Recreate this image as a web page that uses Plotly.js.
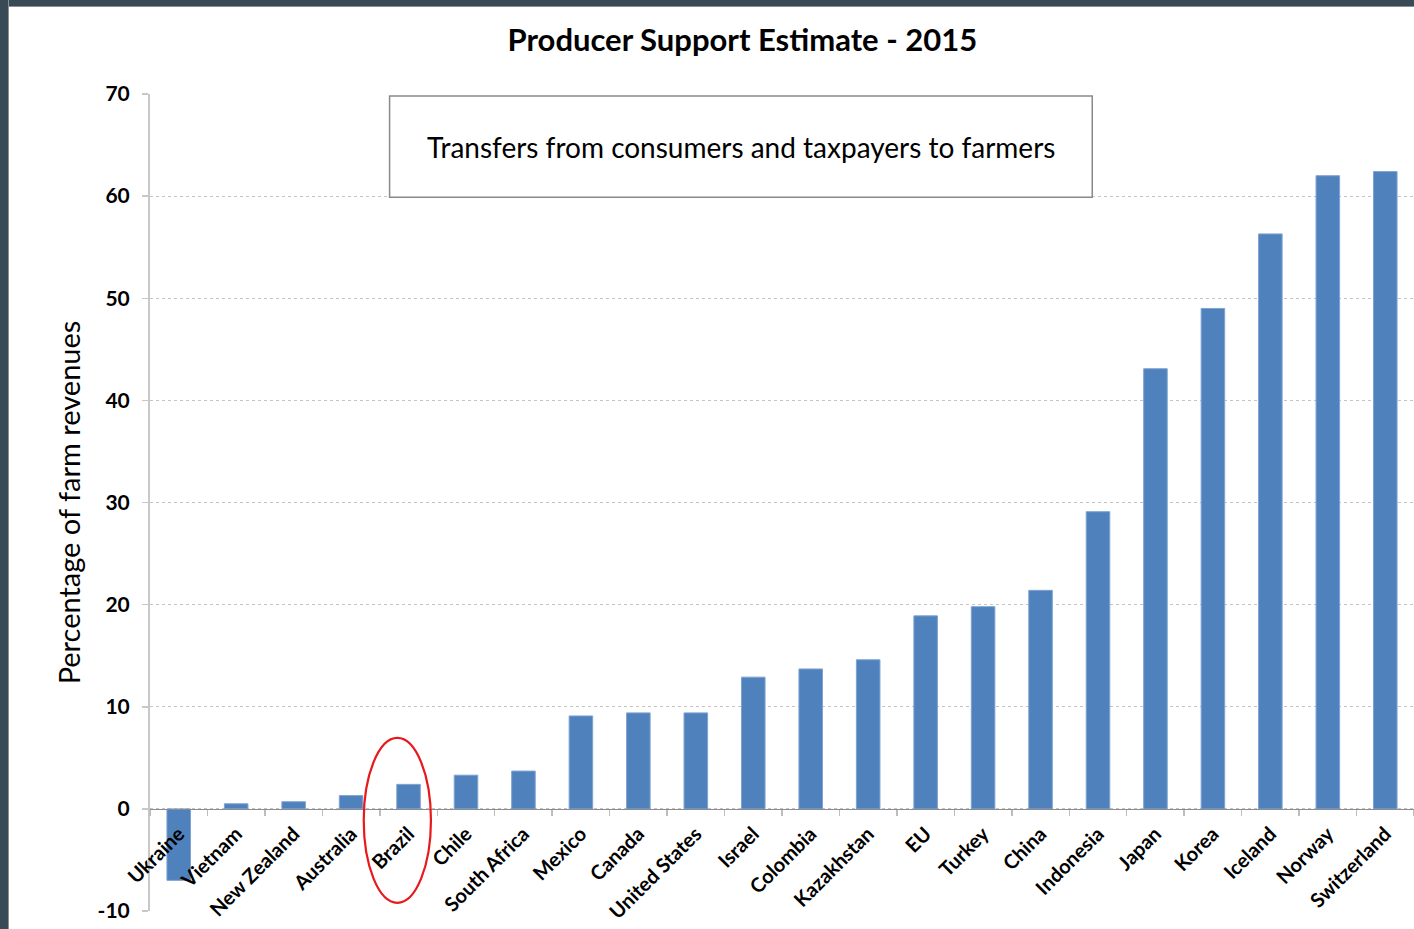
<!DOCTYPE html>
<html>
<head>
<meta charset="utf-8">
<script src="https://cdn.plot.ly/plotly-3.0.1.min.js"></script>
<style>
html,body{margin:0;padding:0;background:#fff;}
#wrap{position:relative;width:1414px;height:929px;overflow:hidden;}
#chart{position:absolute;left:0;top:0;width:1414px;height:929px;}
#topbar{position:absolute;left:0;top:0;width:1414px;height:6px;background:#384A55;border-bottom:1px solid #8a8f93;}
#leftbar{position:absolute;left:0;top:0;width:8px;height:929px;background:#384A55;border-right:1px solid #8a8f93;}
</style>
</head>
<body>
<div id="wrap">
<div id="chart"></div>
<div id="topbar"></div>
<div id="leftbar"></div>
</div>
<script>
const countries = ["Ukraine","Vietnam","New Zealand","Australia","Brazil","Chile","South Africa","Mexico","Canada","United States","Israel","Colombia","Kazakhstan","EU","Turkey","China","Indonesia","Japan","Korea","Iceland","Norway","Switzerland"];
const pseValues = [-7.0, 0.5, 0.7, 1.3, 2.4, 3.3, 3.7, 9.1, 9.4, 9.4, 12.9, 13.7, 14.6, 18.9, 19.8, 21.4, 29.1, 43.1, 49.0, 56.3, 62.0, 62.4];
const yTicks = [-10, 0, 10, 20, 30, 40, 50, 60, 70];
const chartTitle = "Producer Support Estimate - 2015";
const yTitle = "Percentage of farm revenues";
const boxText = "Transfers from consumers and taxpayers to farmers";
const highlighted = "Brazil";

const font = "Lato, 'Open Sans', sans-serif";
const hi = countries.indexOf(highlighted);

const trace = {
  type: "bar",
  x: countries,
  y: pseValues,
  marker: {color: "#4F81BD", line: {color: "#7EA3D1", width: 1}},
  width: 0.41,
  hoverinfo: "x+y"
};

const layout = {
  width: 1414, height: 929,
  margin: {l: 150, r: 0, t: 94, b: 18},
  paper_bgcolor: "#fff", plot_bgcolor: "#fff",
  showlegend: false,
  font: {family: font, color: "#000"},
  title: {text: "<b>" + chartTitle + "</b>", font: {family: font, size: 31, color: "#000"},
          x: 0.525, xanchor: "center", y: 1 - 40/929, yanchor: "middle", yref: "container"},
  xaxis: {
    type: "category",
    anchor: "free", position: 10/80,
    showline: true, linecolor: "#8c8c8c", linewidth: 1.5,
    ticks: "outside", tickson: "boundaries", ticklen: 6, tickcolor: "#bdbdbd", tickwidth: 1.5,
    tickangle: -45,
    ticklabelstandoff: 4,
    tickfont: {family: font, size: 20, color: "#000", weight: "bold"},
    showgrid: false, zeroline: false,
    range: [-0.5, countries.length - 0.5]
  },
  yaxis: {
    range: [-10, 70],
    tickvals: yTicks,
    ticktext: yTicks.map(String),
    showline: true, linecolor: "#c8c8c8", linewidth: 2,
    ticks: "outside", ticklen: 6, tickcolor: "#c8c8c8", tickwidth: 1.5,
    ticklabelstandoff: 8,
    tickfont: {family: font, size: 21, color: "#000", weight: "bold"},
    showgrid: true, gridcolor: "#c4c4c4", griddash: "dot", gridwidth: 1,
    zeroline: false,
    title: {text: yTitle, font: {family: font, size: 29, color: "#000"}, standoff: 8}
  },
  shapes: [
    {type: "rect", xref: "x", yref: "y", x0: 3.67, x1: 15.9, y0: 59.9, y1: 69.8,
     line: {color: "#8a8a8a", width: 1.5}, fillcolor: "#fff", layer: "above"},
    {type: "circle", xref: "x", yref: "y", x0: hi - 0.78, x1: hi + 0.39, y0: -9.2, y1: 6.95,
     line: {color: "#E8181B", width: 2.2}, fillcolor: "rgba(0,0,0,0)", layer: "above"}
  ],
  annotations: [
    {xref: "x", yref: "y", x: 9.79, y: 64.85, text: boxText, showarrow: false,
     font: {family: font, size: 28, color: "#000"}, xanchor: "center", yanchor: "middle"}
  ]
};

Plotly.newPlot("chart", [trace], layout, {displayModeBar: false, staticPlot: true});
</script>
</body>
</html>
